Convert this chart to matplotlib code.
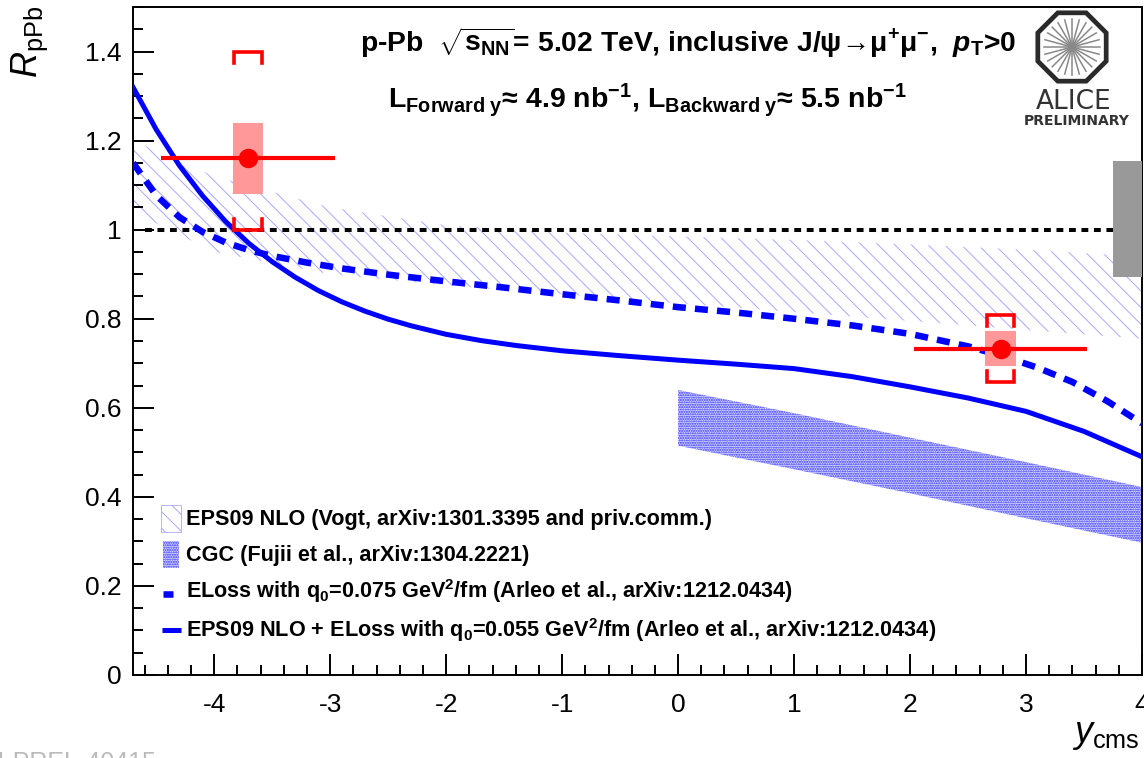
import numpy as np
import matplotlib
matplotlib.use("Agg")
import matplotlib.pyplot as plt
from matplotlib.patches import Rectangle, RegularPolygon

# J/psi R_pPb vs rapidity, ALICE p-Pb 5.02 TeV
W, H = 1144, 758

# measured points
rap_center = [-3.71, 2.78]
rap_lo = [-4.46, 2.03]
rap_hi = [-2.96, 3.53]
rppb = [1.16, 0.733]
syst_uncorr = [0.08, 0.04]
syst_corr_up = [0.24, 0.075]
syst_corr_dn = [0.16, 0.075]
global_lo, global_hi = 0.894, 1.155

# EPS09 NLO band (Vogt)
eps_x = [-4.7, -4.0, -3.0, -2.0, -1.0, 0.0, 1.0, 2.0, 3.0, 4.0]
eps_hi = [1.20, 1.12, 1.05, 1.01, 0.993, 0.985, 0.977, 0.967, 0.955, 0.94]
eps_lo = [1.04, 0.95, 0.90, 0.875, 0.855, 0.835, 0.815, 0.795, 0.775, 0.755]

# CGC band (Fujii)
cgc_x = [0.0, 1.0, 2.0, 3.0, 4.0]
cgc_hi = [0.640, 0.588, 0.533, 0.478, 0.422]
cgc_lo = [0.515, 0.462, 0.408, 0.352, 0.297]

# ELoss q0=0.075
eloss_x = [-4.7, -4.5, -4.3, -4.1, -3.9, -3.7, -3.5, -3.2, -2.9, -2.5, -2.0, -1.5, -1.0, -0.5,
           0.0, 0.5, 1.0, 1.5, 2.0, 2.5, 2.8, 3.1, 3.4, 3.7, 4.0]
eloss_y = [1.150, 1.077, 1.028, 0.995, 0.971, 0.954, 0.941, 0.926, 0.913, 0.899, 0.884, 0.870, 0.855, 0.841,
           0.826, 0.814, 0.800, 0.785, 0.766, 0.738, 0.716, 0.690, 0.658, 0.615, 0.565]

# EPS09 NLO + ELoss q0=0.055
comb_x = [-4.7, -4.5, -4.3, -4.1, -3.9, -3.7, -3.5, -3.3, -3.1, -2.9, -2.7, -2.5, -2.3, -2.0, -1.7,
          -1.4, -1.0, -0.5, 0.0, 0.5, 1.0, 1.5, 2.0, 2.5, 3.0, 3.5, 4.0]
comb_y = [1.320, 1.225, 1.144, 1.076, 1.018, 0.969, 0.928, 0.893, 0.863, 0.838, 0.817, 0.799, 0.784, 0.765, 0.751,
          0.740, 0.728, 0.717, 0.707, 0.698, 0.688, 0.670, 0.647, 0.622, 0.592, 0.547, 0.490]

plt.rcParams["font.family"] = ["Liberation Sans", "DejaVu Sans"]
plt.rcParams["mathtext.fontset"] = "custom"
plt.rcParams["mathtext.rm"] = "Liberation Sans"
plt.rcParams["mathtext.it"] = "Liberation Sans:italic"
plt.rcParams["mathtext.bf"] = "Liberation Sans:bold"
plt.rcParams["mathtext.bfit"] = "Liberation Sans:bold:italic"
plt.rcParams["mathtext.default"] = "bf"


def px(x, y):
    return x / W, 1 - y / H


fig = plt.figure(figsize=(W / 100, H / 100), dpi=100)
ax = fig.add_axes([133 / W, (H - 675) / H, (1142 - 133) / W, (675 - 7) / H])
ax.set_xlim(-4.7, 4)
ax.set_ylim(0, 1.5)

eps_col = "#a8a8ff"
eps_hatch = "\\\\"
cgc_col = "#2a2aff"
cgc_face = "#dcdcff"
with plt.rc_context({"hatch.linewidth": 0.7}):
    ax.fill_between(eps_x, eps_lo, eps_hi, facecolor="none", edgecolor=eps_col,
                    hatch=eps_hatch, linewidth=0, zorder=1)
with plt.rc_context({"hatch.linewidth": 1.0}):
    ax.fill_between(cgc_x, cgc_lo, cgc_hi, facecolor=cgc_face, edgecolor=cgc_col,
                    hatch="." * 7, linewidth=0, zorder=1)

ax.plot([-4.6, 4.0], [1, 1], color="black", lw=2.9, ls=(0, (1.7, 1.4)), zorder=2)
ax.add_patch(Rectangle((3.75, global_lo), 0.5, global_hi - global_lo,
                       facecolor="#999999", edgecolor="none", zorder=3))

ax.plot(eloss_x, eloss_y, color="#0000ff", lw=4.7, ls=(0, (2.0, 1.4)), zorder=4)
ax.plot(comb_x, comb_y, color="#0000ff", lw=3.6, zorder=4)

for i in range(len(rppb)):
    x0, y0 = rap_center[i], rppb[i]
    ax.add_patch(Rectangle((x0 - 0.13, y0 - syst_uncorr[i]), 0.26, 2 * syst_uncorr[i],
                           facecolor="#ff9999", edgecolor="none", zorder=5))
    top = y0 + syst_corr_up[i]
    bot = y0 - syst_corr_dn[i]
    ax.plot([x0 - 0.12, x0 - 0.12, x0 + 0.12, x0 + 0.12], [top - 0.025, top, top, top - 0.025],
            color="red", lw=2.6, zorder=6, solid_joinstyle="miter")
    ax.plot([x0 - 0.12, x0 - 0.12, x0 + 0.12, x0 + 0.12], [bot + 0.025, bot, bot, bot + 0.025],
            color="red", lw=2.6, zorder=6, solid_joinstyle="miter")
    ax.errorbar(x0, y0, xerr=[[x0 - rap_lo[i]], [rap_hi[i] - x0]], fmt="o", color="red",
                ms=13, elinewidth=3, capsize=0, zorder=7)

# axes, ticks
for s in ax.spines.values():
    s.set_linewidth(1.4)
ax.set_xticks(np.arange(-4, 4.01, 1))
ax.set_xticks(np.arange(-4.6, 4.01, 0.2), minor=True)
ax.set_yticks(np.arange(0, 1.41, 0.2))
ax.set_yticks(np.arange(0, 1.501, 0.05), minor=True)
ax.set_yticklabels(["0", "0.2", "0.4", "0.6", "0.8", "1", "1.2", "1.4"])
ax.set_xticklabels([str(v) for v in range(-4, 5)])
ax.tick_params(which="both", direction="in", top=False, right=False, width=1.4, labelsize=19)
ax.tick_params(which="major", length=15)
ax.tick_params(which="minor", length=7.5)
ax.tick_params(axis="x", pad=13)
ax.tick_params(axis="y", pad=8)

fig.text(*px(30, 6), r"$\mathit{R}_{\mathrm{pPb}}$", rotation=90, ha="center", va="top", fontsize=26)
fig.text(*px(1140, 742), r"$\mathit{y}_{\mathrm{cms}}$", ha="right", va="baseline", fontsize=26)

# header
fig.text(*px(360, 52), r"p-Pb  $\sqrt{s_{NN}}$= 5.02 TeV, inclusive J/ψ→μ$^{+}$μ$^{-}$,  $\mathbfit{p}_{T}$>0",
         fontsize=20.3, fontweight="bold", va="baseline")
fig.text(*px(388, 108), r"L$_{Forward\ y}$≈ 4.9 nb$^{-1}$, L$_{Backward\ y}$≈ 5.5 nb$^{-1}$",
         fontsize=20.5, fontweight="bold", va="baseline")

# legend
leg_text = ["EPS09 NLO (Vogt, arXiv:1301.3395 and priv.comm.)",
            "CGC (Fujii et al., arXiv:1304.2221)",
            r"ELoss with q$_{0}$=0.075 GeV$^{2}$/fm (Arleo et al., arXiv:1212.0434)",
            r"EPS09 NLO + ELoss with q$_{0}$=0.055 GeV$^{2}$/fm (Arleo et al., arXiv:1212.0434)"]
leg_base = [525, 561, 598, 637]
for t, yb in zip(leg_text, leg_base):
    fig.text(*px(186, yb), t, fontsize=15.6, fontweight="bold", va="baseline")

with plt.rc_context({"hatch.linewidth": 0.7}):
    fig.patches.append(Rectangle(px(161, 532), 20 / W, 27 / H, transform=fig.transFigure,
                                 facecolor="white", edgecolor=eps_col, hatch=eps_hatch, lw=0.6))
with plt.rc_context({"hatch.linewidth": 1.0}):
    fig.patches.append(Rectangle(px(163, 568), 16 / W, 27 / H, transform=fig.transFigure,
                                 facecolor=cgc_face, edgecolor=cgc_col, hatch="." * 7, lw=0))
fig.lines.append(plt.Line2D([163 / W, 173 / W], [1 - 594 / H] * 2, transform=fig.transFigure,
                            color="#0000ff", lw=4.7, solid_capstyle="butt"))
fig.lines.append(plt.Line2D([162 / W, 181 / W], [1 - 630 / H] * 2, transform=fig.transFigure,
                            color="#0000ff", lw=3.6, solid_capstyle="butt"))

# ALICE logo
lg = fig.add_axes([1010 / W, 1 - 130 / H, 134 / W, 125 / H])
lg.set_xlim(1010, 1144)
lg.set_ylim(130, 5)
lg.set_aspect("equal")
lg.axis("off")
lg.add_patch(RegularPolygon((1072, 47), 8, radius=37, orientation=np.pi / 8,
                            facecolor="white", edgecolor="#2a2a2a", lw=3.4))
for a in np.arange(0, 180, 15):
    r = np.deg2rad(a)
    lg.plot([1072 - 28 * np.cos(r), 1072 + 28 * np.cos(r)],
            [47 - 28 * np.sin(r), 47 + 28 * np.sin(r)], color="#888888", lw=1.1)
lg.text(1074, 109, "ALICE", ha="center", va="baseline", fontsize=19, color="#333333",
        family="DejaVu Sans")
lg.text(1077, 125, "PRELIMINARY", ha="center", va="baseline", fontsize=10, color="#333333",
        family="DejaVu Sans", fontweight="bold")

fig.text(*px(157, 751), "ALI-PREL-40415", ha="right", va="top", fontsize=18, color="#bbbbbb")

fig.savefig("out.png", dpi=100)
